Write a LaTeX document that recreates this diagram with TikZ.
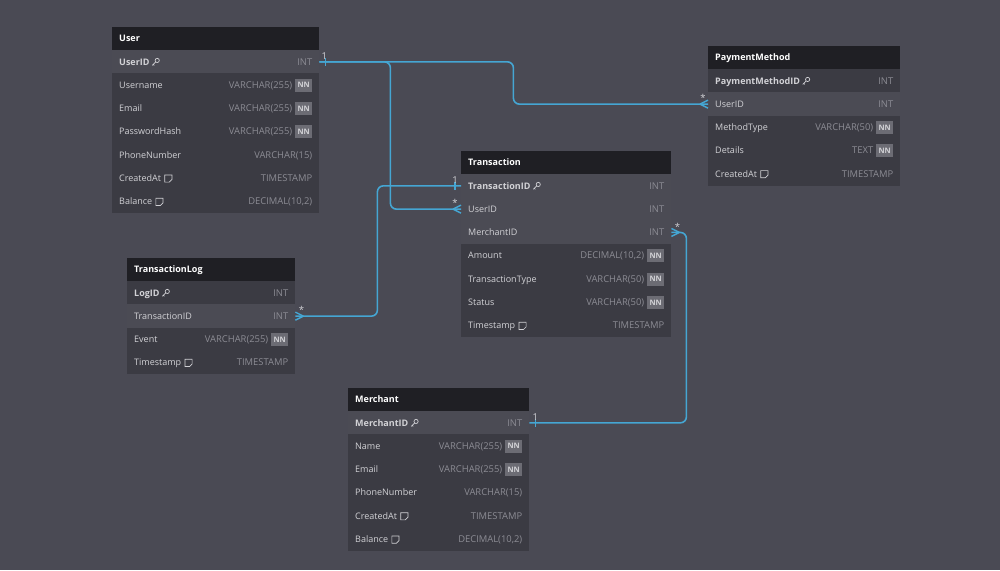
\documentclass[tikz,border=0pt]{standalone}
\usepackage{fontspec}
\setmainfont{Open Sans}
\usetikzlibrary{calc,positioning}
\definecolor{fondo}{HTML}{4A4A54}
\definecolor{cuerpo}{HTML}{3B3B43}
\definecolor{cabeza}{HTML}{1F1F24}
\definecolor{resalte}{HTML}{4B4B54}
\definecolor{texto}{HTML}{D2D2D6}
\definecolor{tipo}{HTML}{8C8C94}
\definecolor{insignia}{HTML}{6C6C74}
\definecolor{enlace}{HTML}{45A6D3}

% tabla: nombre, x, y (arriba), ancho, titulo, filas nombre/tipo/resalte/icono/NN
\newcommand{\ertable}[6]{%
  \node[hdr, minimum width=#4] (#1-h) at (#2,#3) {};
  \node[title] (#1-t) at ([xshift=7,yshift=-3.2]#1-h.west) {#5};
  \foreach \nm/\ty/\hl/\ic/\nn [count=\i] in {#6} {
    \ifnum\hl=1 \def\rowfill{resalte}\else\def\rowfill{cuerpo}\fi
    \node[rowbox, fill=\rowfill, minimum width=#4] (#1-\i) at (#2,{#3-23-(\i-1)*23.3}) {};
    \node[fname] (#1-\i-n) at ([xshift=7,yshift=-3.2]#1-\i.west) {\ifnum\ic=1 \bfseries\fi\nm};
    \ifnum\ic=1
      \draw[icon] ([shift={(7.5,4.6)}]#1-\i-n.base east) circle (2.1);
      \draw[icon] ([shift={(6,3.1)}]#1-\i-n.base east) -- ([shift={(2.6,-0.3)}]#1-\i-n.base east)
        ([shift={(3.6,0.7)}]#1-\i-n.base east) -- ([shift={(4.6,-0.3)}]#1-\i-n.base east);
    \fi
    \ifnum\ic=2
      \draw[icon] ([shift={(3.5,-0.6)}]#1-\i-n.base east) -- ++(0,7.2) -- ++(7.2,0) -- ++(0,-4.6)
        -- ++(-2.6,-2.6) -- cycle;
    \fi
    \ifnum\nn=1
      \node[badge] (#1-\i-b) at ([xshift=-7]#1-\i.east) {NN};
      \node[ftype] (#1-\i-y) at ([xshift=-27,yshift=-3.2]#1-\i.east) {\ty};
    \else
      \node[ftype] (#1-\i-y) at ([xshift=-7,yshift=-3.2]#1-\i.east) {\ty};
    \fi
  }%
}
% pata de gallo (muchos) y barra (uno)
\newcommand{\crowfoot}[2]{%
  \draw[foot] ([xshift=-8*#2]#1) -- ([yshift=4]#1) ([xshift=-8*#2]#1) -- ([yshift=-4]#1);}
\newcommand{\onebar}[2]{%
  \draw[foot] ([xshift=6*#2,yshift=4]#1) -- ([xshift=6*#2,yshift=-4]#1);}

\begin{document}
\begin{tikzpicture}[x=1pt,y=1pt,
  hdr/.style={fill=cabeza, minimum height=23, inner sep=0, anchor=north west},
  rowbox/.style={minimum height=23.3, inner sep=0, anchor=north west},
  title/.style={text=white, font=\fontsize{9}{10}\selectfont\bfseries, anchor=base west, inner sep=0},
  fname/.style={text=texto, font=\fontsize{9}{10}\selectfont, anchor=base west, inner sep=0},
  ftype/.style={text=tipo, font=\fontsize{9.4}{10}\selectfont, anchor=base east, inner sep=0},
  badge/.style={fill=insignia, text=texto, font=\fontsize{7.5}{9}\selectfont\bfseries,
    minimum width=17, minimum height=13, inner sep=0, anchor=east},
  rel/.style={draw=enlace, line width=1.6pt, rounded corners=6pt},
  foot/.style={draw=enlace, line width=1.4pt},
  card/.style={text=texto, font=\fontsize{9.5}{10}\selectfont, inner sep=0, anchor=south},
  icon/.style={draw=texto, line width=0.7pt}]
  \useasboundingbox (0,0) rectangle (1000,570);
  \fill[fondo] (0,0) rectangle (1000,570);

  % --- tablas ---
  \ertable{user}{112}{543}{207}{User}{%
    UserID/INT/1/1/0, Username/VARCHAR(255)/0/0/1, Email/VARCHAR(255)/0/0/1,
    PasswordHash/VARCHAR(255)/0/0/1, PhoneNumber/VARCHAR(15)/0/0/0,
    CreatedAt/TIMESTAMP/0/2/0, Balance/{DECIMAL(10,2)}/0/2/0}
  \ertable{pm}{708}{524}{192}{PaymentMethod}{%
    PaymentMethodID/INT/0/1/0, UserID/INT/1/0/0, MethodType/VARCHAR(50)/0/0/1,
    Details/TEXT/0/0/1, CreatedAt/TIMESTAMP/0/2/0}
  \ertable{trans}{461}{419}{210}{Transaction}{%
    TransactionID/INT/1/1/0, UserID/INT/1/0/0, MerchantID/INT/1/0/0,
    Amount/{DECIMAL(10,2)}/0/0/1, TransactionType/VARCHAR(50)/0/0/1,
    Status/VARCHAR(50)/0/0/1, Timestamp/TIMESTAMP/0/2/0}
  \ertable{tlog}{127}{312}{168}{TransactionLog}{%
    LogID/INT/0/1/0, TransactionID/INT/1/0/0, Event/VARCHAR(255)/0/0/1,
    Timestamp/TIMESTAMP/0/2/0}
  \ertable{merchant}{348}{182}{181}{Merchant}{%
    MerchantID/INT/1/1/0, Name/VARCHAR(255)/0/0/1, Email/VARCHAR(255)/0/0/1,
    PhoneNumber/VARCHAR(15)/0/0/0, CreatedAt/TIMESTAMP/0/2/0,
    Balance/{DECIMAL(10,2)}/0/2/0}

  % --- relaciones ---
  \draw[rel] (user-1.east) -- ([xshift=194]user-1.east) |- (pm-2.west);
  \draw[rel] (user-1.east) -- ([xshift=71]user-1.east) |- (trans-2.west);
  \draw[rel] (tlog-2.east) -- ([xshift=82]tlog-2.east) |- (trans-1.west);
  \draw[rel] (merchant-1.east) -- ([xshift=157]merchant-1.east) |- (trans-3.east);

  \onebar{user-1.east}{1}
  \onebar{trans-1.west}{-1}
  \onebar{merchant-1.east}{1}
  \crowfoot{pm-2.west}{1}
  \crowfoot{trans-2.west}{1}
  \crowfoot{trans-3.east}{-1}
  \crowfoot{tlog-2.east}{-1}

  \node[card] (c-user) at ([xshift=5,yshift=2]user-1.east) {1};
  \node[card] (c-pm) at ([xshift=-5,yshift=2]pm-2.west) {*};
  \node[card] (c-tid) at ([xshift=-6,yshift=2]trans-1.west) {1};
  \node[card] (c-tuid) at ([xshift=-6,yshift=2]trans-2.west) {*};
  \node[card] (c-tmid) at ([xshift=6,yshift=2]trans-3.east) {*};
  \node[card] (c-mer) at ([xshift=6,yshift=2]merchant-1.east) {1};
  \node[card] (c-log) at ([xshift=6,yshift=2]tlog-2.east) {*};
\end{tikzpicture}
\end{document}
